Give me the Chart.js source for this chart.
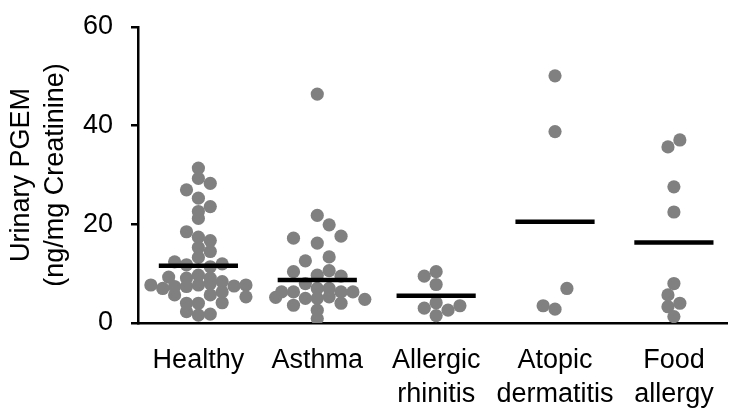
<!DOCTYPE html>
<html>
<head>
<meta charset="utf-8">
<script src="https://cdn.jsdelivr.net/npm/chart.js@4/dist/chart.umd.min.js"></script>
<style>
  html, body { margin: 0; padding: 0; background: #fff; }
  #wrap { width: 734px; height: 409px; position: relative; }
</style>
</head>
<body>
<div id="wrap"><canvas id="c"></canvas></div>
<script>
// ---- data ----
const categories = [['Healthy'], ['Asthma'], ['Allergic', 'rhinitis'], ['Atopic', 'dermatitis'], ['Food', 'allergy']];
const yTicks = [0, 20, 40, 60];

const healthyValues = [31.4, 29.3, 28.3, 27.0, 25.3, 23.6, 22.6, 21.2, 18.5, 17.4, 16.7, 15.3, 14.5, 13.3, 12.4, 11.8, 12.0, 11.4, 9.3, 9.1, 9.7, 9.1, 8.4, 7.7, 7.0, 7.4, 7.4, 7.7, 8.0, 7.5, 7.7, 5.7, 5.7, 6.3, 5.3, 4.0, 4.0, 4.1, 2.3, 1.6, 1.8];
const healthyJitter = [0, 0, 1, -1, 0, 1, 0, 0, -1, 0, 1, 0, 1, 0, -2, -1, 2, 1, -2.5, -1, 0, 1, 2, -4, -3, -2, -1, 0, 1, 3, 4, -2, 1, 2, 4, -1, 0, 2, -1, 0, 1];

const asthmaValues = [46.4, 21.8, 19.9, 17.2, 17.6, 16.2, 13.4, 12.6, 10.4, 10.6, 9.7, 9.5, 8.0, 6.3, 6.3, 7.0, 7.0, 6.3, 6.3, 5.2, 5.0, 5.0, 5.3, 4.8, 3.6, 4.0, 2.6, 0.9];
const asthmaJitter = [0, 0, 1, -2, 2, 0, 1, -1, -2, 1, 0, 2, -1, -3, -2, 0, 1, 2, 3, -3.5, -1, 0, 1, 4, -2, 2, 0, 0];

const rhinitisValues = [9.5, 10.4, 7.8, 3.0, 4.1, 2.6, 3.5, 1.5];
const rhinitisJitter = [-1, 0, 0, -1, 0, 1, 2, 0];

const dermatitisValues = [50.1, 38.8, 7.0, 3.5, 2.8];
const dermatitisJitter = [0, 0, 1, -1, 0];

const foodValues = [37.1, 35.7, 27.6, 22.5, 8.0, 5.7, 4.0, 3.3, 1.3];
const foodJitter = [0.5, -0.5, 0, 0, 0, -0.5, 0.5, -0.5, 0];

const groupMeans = [11.6, 8.7, 5.5, 20.5, 16.3];

// ---- build datasets ----
const groups = [
  [healthyValues, healthyJitter],
  [asthmaValues, asthmaJitter],
  [rhinitisValues, rhinitisJitter],
  [dermatitisValues, dermatitisJitter],
  [foodValues, foodJitter]
];
const COL = 0.1;      // jitter column spacing in category units
const HALF = 0.333;   // half width of mean bar

const datasets = [];
groupMeans.forEach((m, i) => {
  datasets.push({
    type: 'scatter',
    data: [{ x: i - HALF, y: m }, { x: i + HALF, y: m }],
    showLine: true,
    borderColor: '#000',
    borderWidth: 4.5,
    pointRadius: 0,
    borderCapStyle: 'butt',
    order: 0
  });
});
groups.forEach(([vals, jit], i) => {
  datasets.push({
    type: 'scatter',
    data: vals.map((v, k) => ({ x: i + jit[k] * COL, y: v })),
    backgroundColor: '#808080',
    borderWidth: 0,
    pointRadius: 6.6,
    order: 1
  });
});

const FONT = "'Liberation Sans', Arial, sans-serif";

new Chart(document.getElementById('c'), {
  type: 'scatter',
  data: { datasets },
  options: {
    responsive: true,
    maintainAspectRatio: false,
    animation: false,
    devicePixelRatio: 1,
    layout: { padding: { top: 27, right: 1, left: 0, bottom: 0 } },
    plugins: { legend: { display: false }, tooltip: { enabled: false } },
    scales: {
      x: {
        type: 'linear',
        min: -0.508,
        max: 4.45,
        afterBuildTicks: (s) => { s.ticks = categories.map((_, i) => ({ value: i })); },
        afterFit: (s) => { s.height = 86; s.paddingLeft = 0; s.paddingRight = 0; },
        grid: { display: false, drawTicks: false },
        border: { display: true, color: '#000', width: 2.5 },
        ticks: {
          autoSkip: false,
          maxRotation: 0,
          padding: 21,
          color: '#000',
          font: { family: FONT, size: 27, lineHeight: 1.25 },
          callback: (v) => categories[v]
        }
      },
      y: {
        min: 0,
        max: 60,
        afterBuildTicks: (s) => { s.ticks = yTicks.map(v => ({ value: v })); },
        afterFit: (s) => { s.width = 138; s.paddingTop = 10; s.paddingBottom = 10; },
        grid: { display: true, drawOnChartArea: false, drawTicks: true, tickLength: 7, color: '#000', lineWidth: 2.5 },
        border: { display: true, color: '#000', width: 2.5 },
        ticks: {
          padding: 18,
          color: '#000',
          font: { family: FONT, size: 27 }
        },
        title: {
          display: true,
          text: ['Urinary PGEM', '(ng/mg Creatinine)'],
          color: '#000',
          font: { family: FONT, size: 27, lineHeight: 1.26 },
          padding: { top: 5, bottom: 0 }
        }
      }
    }
  }
});
</script>
</body>
</html>
